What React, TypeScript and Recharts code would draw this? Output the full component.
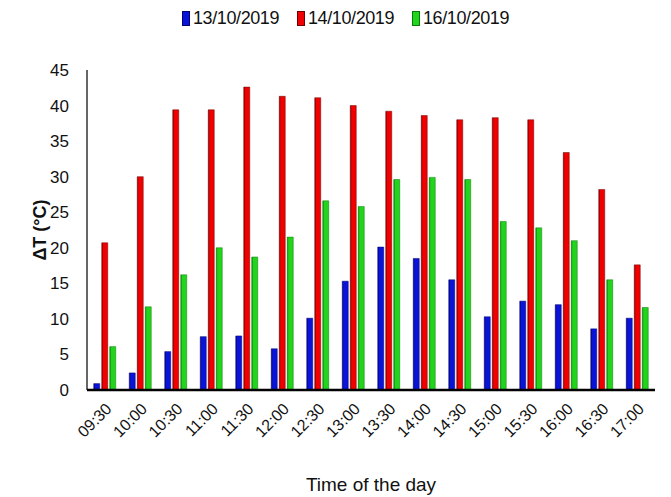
import React from 'react';
import { BarChart, Bar, XAxis, YAxis, Legend } from 'recharts';

const times = ['09:30', '10:00', '10:30', '11:00', '11:30', '12:00', '12:30', '13:00', '13:30', '14:00', '14:30', '15:00', '15:30', '16:00', '16:30', '17:00'];
const day13 = [0.9, 2.4, 5.4, 7.5, 7.6, 5.8, 10.1, 15.3, 20.1, 18.5, 15.5, 10.3, 12.5, 12.0, 8.6, 10.1];
const day14 = [20.7, 30.0, 39.4, 39.4, 42.6, 41.3, 41.1, 40.0, 39.2, 38.6, 38.0, 38.3, 38.0, 33.4, 28.2, 17.6];
const day16 = [6.1, 11.7, 16.2, 20.0, 18.7, 21.5, 26.6, 25.8, 29.6, 29.9, 29.6, 23.7, 22.8, 21.0, 15.5, 11.6];
const yTicks = [0, 5, 10, 15, 20, 25, 30, 35, 40, 45];

const seriesInfo = [
  { key: 'd13', name: '13/10/2019', color: '#0a14d8', dark: '#000070' },
  { key: 'd14', name: '14/10/2019', color: '#f00000', dark: '#700000' },
  { key: 'd16', name: '16/10/2019', color: '#22d41c', dark: '#0a7a0a' },
];

const data = times.map((t, i) => ({ time: t, d13: day13[i], d14: day14[i], d16: day16[i] }));

const FONT = '"Liberation Sans", Arial, sans-serif';

const TimeTick = (props: any) => {
  const { x, y, payload } = props;
  return (
    <text
      x={x + 4}
      y={y + 8}
      transform={`rotate(-45, ${x + 4}, ${y + 8})`}
      textAnchor="end"
      dominantBaseline="central"
      fontFamily={FONT}
      fontSize={16}
      fill="#111"
    >
      {payload.value}
    </text>
  );
};

const LegendContent = () => (
  <div style={{ position: 'relative', height: 22, fontFamily: FONT, fontSize: 18, color: '#111' }}>
    {seriesInfo.map((s, i) => (
      <div key={s.key} style={{ position: 'absolute', left: 182 + i * 115, top: 0, display: 'flex', alignItems: 'center', height: 22, letterSpacing: -0.4 }}>
        <span style={{ display: 'inline-block', width: 6, height: 13, background: s.color, border: `1px solid ${s.dark}`, marginRight: 3 }} />
        {s.name}
      </div>
    ))}
  </div>
);

export default function App() {
  return (
    <div style={{ position: 'absolute', left: 0, top: 0, width: 671, height: 497, background: '#fff' }}>
      <BarChart
        width={671}
        height={497}
        data={data}
        margin={{ top: 48, right: 16, bottom: 0, left: 0 }}
        barGap={2}
        barCategoryGap="19%"
      >
        <defs>
          {seriesInfo.map((s) => (
            <linearGradient key={s.key} id={`g-${s.key}`} x1="0" y1="0" x2="1" y2="0">
              <stop offset="0%" stopColor={s.dark} />
              <stop offset="25%" stopColor={s.color} />
              <stop offset="100%" stopColor={s.color} />
            </linearGradient>
          ))}
        </defs>
        <Legend
          verticalAlign="top"
          align="center"
          height={22}
          content={LegendContent}
          wrapperStyle={{ position: 'absolute', top: 7, left: 0, width: 671 }}
        />
        <XAxis
          dataKey="time"
          interval={0}
          height={107}
          tickLine={false}
          axisLine={{ stroke: '#000', strokeWidth: 2.5 }}
          tick={<TimeTick />}
          label={{ value: 'Time of the day', position: 'insideBottom', offset: 6, fontFamily: FONT, fontSize: 19, fill: '#111' }}
        />
        <YAxis
          domain={[0, 45]}
          ticks={yTicks}
          interval={0}
          width={87}
          tickLine={false}
          tickMargin={12}
          axisLine={{ stroke: '#000', strokeWidth: 1.2 }}
          tick={{ fontFamily: FONT, fontSize: 17, fill: '#111' }}
          label={{ value: 'ΔT (°C)', angle: -90, position: 'insideLeft', offset: 40, fontFamily: FONT, fontWeight: 'bold', fontSize: 18, fill: '#111', style: { textAnchor: 'middle' } }}
        />
        {seriesInfo.map((s) => (
          <Bar key={s.key} dataKey={s.key} name={s.name} fill={`url(#g-${s.key})`} stroke={s.dark} strokeWidth={0.5} isAnimationActive={false} />
        ))}
      </BarChart>
    </div>
  );
}
